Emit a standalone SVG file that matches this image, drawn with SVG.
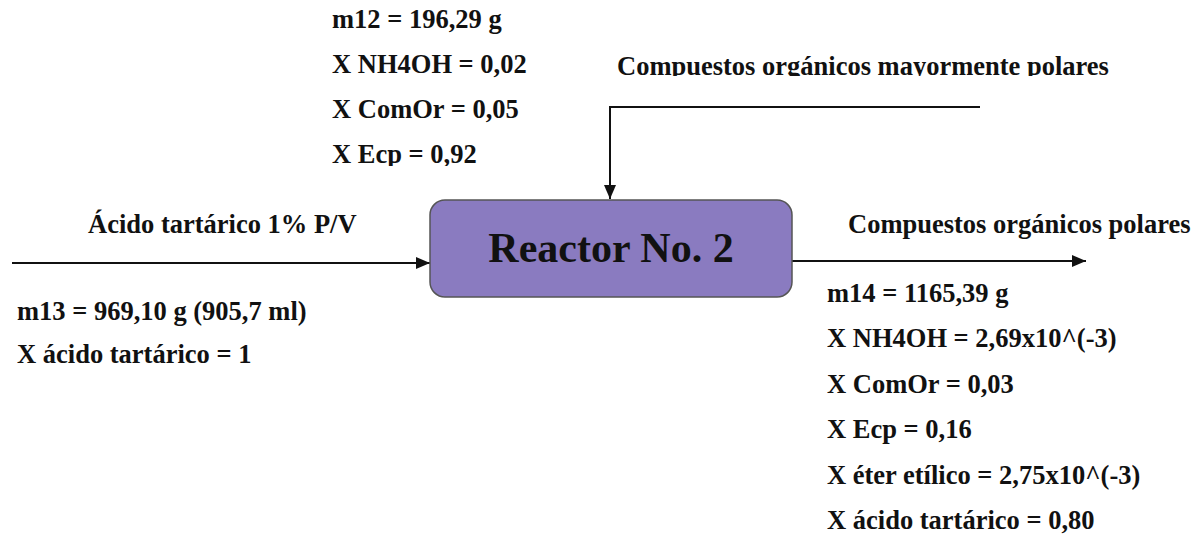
<svg xmlns="http://www.w3.org/2000/svg" width="1198" height="538" viewBox="0 0 1198 538">
<style>
text{font-family:'Liberation Serif','DejaVu Serif',serif;font-weight:700;fill:#111;font-size:26.5px}
.big{font-size:42px}
.ln{stroke:#111;stroke-width:2;fill:none}
</style>
<defs>
<marker id="ah" viewBox="0 0 14 12" refX="14" refY="6" markerWidth="14" markerHeight="12" markerUnits="userSpaceOnUse" orient="auto"><path d="M0,0 L14,6 L0,12 z" fill="#111"/></marker>
<clipPath id="clipTop"><rect x="0" y="0" width="1198" height="76"/></clipPath>
<clipPath id="clipEcp"><rect x="0" y="0" width="1198" height="166"/></clipPath>
</defs>
<rect width="1198" height="538" fill="#fff"/>
<g id="connectors">
<path class="ln" d="M12,263 H430" marker-end="url(#ah)"/>
<path class="ln" d="M980,107 H610 V199" marker-end="url(#ah)"/>
<path class="ln" d="M792,261 H1086" marker-end="url(#ah)"/>
</g>
<g id="reactor">
<rect x="430" y="200" width="362" height="97" rx="15" fill="#8A7BC0" stroke="#555" stroke-width="1.5"/>
<text class="big" x="611" y="262" text-anchor="middle">Reactor No. 2</text>
</g>
<g id="stream12">
<text x="332" y="28">m12 = 196,29 g</text>
<text x="332" y="73">X NH4OH = 0,02</text>
<text x="332" y="118">X ComOr = 0,05</text>
<text x="332" y="163" clip-path="url(#clipEcp)">X Ecp = 0,92</text>
</g>
<g id="stream-top">
<text x="617" y="75" clip-path="url(#clipTop)">Compuestos orgánicos mayormente polares</text>
</g>
<g id="stream13">
<text x="88" y="233">Ácido tartárico 1% P/V</text>
<text x="17" y="320">m13 = 969,10 g (905,7 ml)</text>
<text x="17" y="363">X ácido tartárico = 1</text>
</g>
<g id="stream14">
<text x="848" y="233">Compuestos orgánicos polares</text>
<text x="827" y="302">m14 = 1165,39 g</text>
<text x="827" y="347">X NH4OH = 2,69x10^(-3)</text>
<text x="827" y="393">X ComOr = 0,03</text>
<text x="827" y="438">X Ecp = 0,16</text>
<text x="827" y="484">X éter etílico = 2,75x10^(-3)</text>
<text x="827" y="529">X ácido tartárico = 0,80</text>
</g>
</svg>
